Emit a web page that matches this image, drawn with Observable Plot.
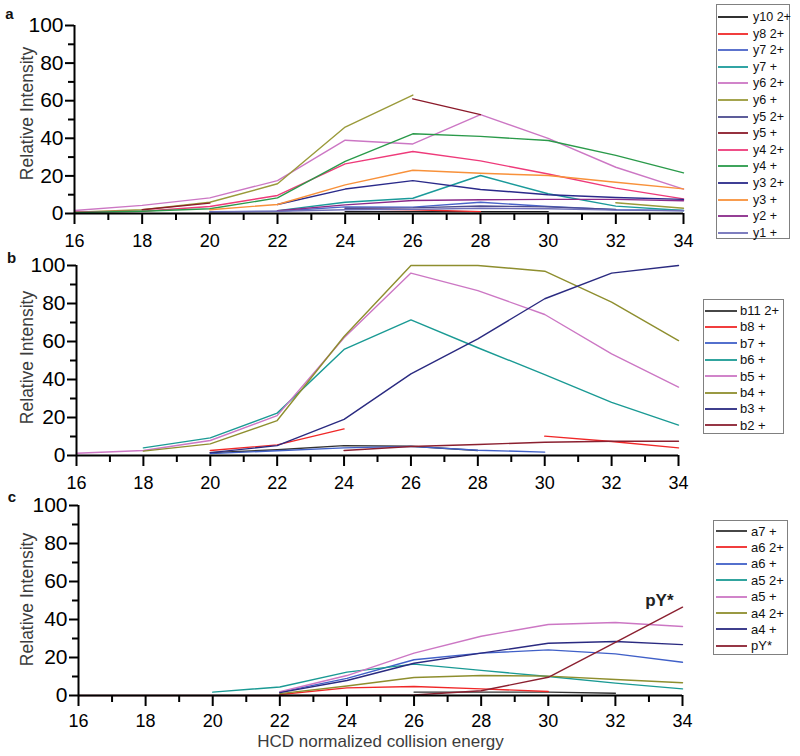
<!DOCTYPE html>
<html>
<head>
<meta charset="utf-8">
<script src="https://cdn.jsdelivr.net/npm/d3@7"></script>
<script src="https://cdn.jsdelivr.net/npm/@observablehq/plot@0.6"></script>
<style>
  html, body { margin: 0; padding: 0; background: #fff; }
  #root { position: relative; width: 800px; height: 756px; overflow: hidden; font-family: "Liberation Sans", Arial, sans-serif; }
  .legend { position: absolute; border: 1px solid #808080; background: #fff; box-sizing: border-box; }
  .legend .row { position: absolute; left: 0; height: 16px; display: flex; align-items: center; white-space: nowrap; color: #111; }
</style>
</head>
<body>
<div id="root"></div>
<script>
// ---------- data ----------
const energies = [16, 18, 20, 22, 24, 26, 28, 30, 32, 34];
const xMajorTicks = [16, 18, 20, 22, 24, 26, 28, 30, 32, 34];
const xMinorTicks = [17, 19, 21, 23, 25, 27, 29, 31, 33];
const yMajorTicks = [0, 20, 40, 60, 80, 100];
const yMinorTicks = [10, 30, 50, 70, 90];

// panel a : y ions
const yNames = ["y10 2+", "y8 2+", "y7 2+", "y7 +", "y6 2+", "y6 +", "y5 2+", "y5 +", "y4 2+", "y4 +", "y3 2+", "y3 +", "y2 +", "y1 +"];
const yColors = ["#1a1a1a", "#f02828", "#4a64c8", "#1a9a9a", "#cc77c4", "#9a9a3a", "#4b4b8f", "#8b1a2a", "#ee3a7a", "#2a9a4a", "#2a2a8a", "#f8913a", "#8a2a8a", "#7070b8"];
const y10_2 = [null, null, null, null, 1, 1, 1, 1, null, null];
const y8_2  = [null, null, null, null, 2.5, 2, 1, null, null, null];
const y7_2  = [null, null, 1, 1.2, 3.5, 3.4, 6, 3.7, 2, 1.6];
const y7_1  = [null, null, null, 1.5, 6, 8.1, 20.2, 10.5, 3.9, 1.6];
const y6_2  = [1.6, 4.3, 8.3, 17.5, 39, 37, 52.6, 40, 24.6, 13];
const y6_1  = [0.7, 2, 6, 15.8, 46, 63, null, null, 5.7, 2.8];
const y5_2  = [null, null, null, null, 2.8, 3, 4, 3.5, 2.2, null];
const y5_1  = [null, 2, 5.5, null, null, 61, 52.6, null, null, null];
const y4_2  = [0.8, 1.2, 3.7, 9.6, 26.4, 33, 28, 21, 13.5, 7.8];
const y4_1  = [0.5, 1.2, 2.5, 8.3, 27.7, 42.4, 41, 38.8, 30.9, 21.6];
const y3_2  = [null, null, null, 4.8, 13, 17.5, 12.8, 10, 8.5, 7.5];
const y3_1  = [null, null, 2, 4.8, 15.2, 23, 21.4, 20.2, 16.6, 13.1];
const y2_1  = [null, null, null, 1.5, 4.6, 6.9, 7.3, 7.5, 7.5, 6.8];
const y1_1  = [null, null, 0.8, 1.2, 2, 2.2, 2.8, 2.5, 1.8, 1.5];
const yValues = [y10_2, y8_2, y7_2, y7_1, y6_2, y6_1, y5_2, y5_1, y4_2, y4_1, y3_2, y3_1, y2_1, y1_1];

// panel b : b ions
const bNames = ["b11 2+", "b8 +", "b7 +", "b6 +", "b5 +", "b4 +", "b3 +", "b2 +"];
const bColors = ["#333333", "#f02828", "#4060c8", "#1a9a94", "#cc77c4", "#8e8e2e", "#2a2a80", "#8b2030"];
const b11_2 = [null, null, 1.5, 3, 5.2, 4.9, 2.6, null, null, null];
const b8_1  = [null, null, 2.6, 5.6, 14, null, null, 10.2, 7.4, 4];
const b7_1  = [null, null, 1, 2.5, 4, 4.8, 2.8, 1.8, null, null];
const b6_1  = [null, 4, 9.3, 22.3, 55.8, 71.4, 56.7, 42.6, 28, 16];
const b5_1  = [1.2, 2.6, 7.9, 21, 62, 96, 86.8, 74.2, 53.5, 36];
const b4_1  = [null, 2.3, 6.1, 18.4, 62.6, 100, 100, 97, 80.7, 60.5];
const b3_1  = [null, null, 1.5, 5.2, 19, 43, 61.4, 82.5, 96, 100];
const b2_1  = [null, null, null, null, 2.6, 4.7, 5.8, 7, 7.5, 7.5];
const bValues = [b11_2, b8_1, b7_1, b6_1, b5_1, b4_1, b3_1, b2_1];

// panel c : a ions
const aNames = ["a7 +", "a6 2+", "a6 +", "a5 2+", "a5 +", "a4 2+", "a4 +", "pY*"];
const aColors = ["#333333", "#f02828", "#4060c8", "#1a9a94", "#cc77c4", "#8e8e2e", "#2a2a80", "#8b2030"];
const a7_1  = [null, null, null, null, null, 1.8, 1.8, 1.8, 1.2, null];
const a6_2  = [null, null, null, 0.5, 4, 4.7, 3.5, 2.1, null, null];
const a6_1  = [null, null, null, 1.8, 9, 18.8, 22.3, 24, 21.9, 17.5];
const a5_2  = [null, null, 1.8, 4.5, 12.3, 16.5, 13.2, 10, 6.5, 3.5];
const a5_1  = [null, null, null, 2, 10.5, 22.3, 31.2, 37.4, 38.4, 36.3];
const a4_2  = [null, null, null, 1, 5, 9.5, 10.5, 10.2, 8.4, 6.7];
const a4_1  = [null, null, null, 1.5, 7.9, 17, 22.3, 27.5, 28.4, 26.8];
const pY    = [0, 0, 0, 0, 0, 0.3, 2.5, 9.6, 28, 46.5];
const aValues = [a7_1, a6_2, a6_1, a5_2, a5_1, a4_2, a4_1, pY];

const yTitle = "Relative Intensity";
const xTitle = "HCD normalized collision energy";
const annotation = [{x: 34, y: 46.5, text: "pY*"}];

// ---------- helpers ----------
function toRows(names, values) {
  const rows = [];
  names.forEach((n, i) => {
    values[i].forEach((v, j) => rows.push({series: n, x: energies[j], y: v == null ? NaN : v}));
  });
  return rows;
}

const root = document.getElementById("root");

function makePanel(cfg) {
  const rows = toRows(cfg.names, cfg.values);
  const marks = [
    Plot.line(rows, {x: "x", y: "y", z: "series", stroke: "series", strokeWidth: 1.4}),
    Plot.ruleY([0], {strokeWidth: 2, stroke: "#000"}),
    Plot.ruleX([16], {strokeWidth: 2, stroke: "#000"}),
    Plot.axisX({ticks: xMajorTicks, tickSize: 11, tickPadding: cfg.xPad, fontSize: 18, strokeWidth: 2, label: null, tickFormat: d => String(d)}),
    Plot.axisX({ticks: xMinorTicks, tickSize: 7, strokeWidth: 2, label: null, tickFormat: () => ""}),
    Plot.axisY({ticks: yMajorTicks, tickSize: 9, tickPadding: 2, fontSize: 21, strokeWidth: 2, label: null, tickFormat: d => String(d)}),
    Plot.axisY({ticks: yMinorTicks, tickSize: 6, strokeWidth: 2, label: null, tickFormat: () => ""}),
    Plot.text([yTitle], {frameAnchor: "left", dx: 27 - cfg.marginLeft, dy: cfg.titleDy, rotate: -90, textAnchor: "middle", lineAnchor: "middle", fontSize: 17.5, fill: "#3c3c3c"}),
    Plot.text([cfg.letter], {frameAnchor: "top-left", dx: cfg.letterDx, dy: cfg.letterDy, textAnchor: "middle", lineAnchor: "middle", fontSize: 15, fontWeight: "bold", fill: "#111"})
  ];
  if (cfg.extra) marks.push(...cfg.extra);
  const svg = Plot.plot({
    width: 700,
    height: cfg.height,
    marginLeft: cfg.marginLeft,
    marginRight: cfg.marginRight,
    marginTop: 25,
    marginBottom: cfg.height - 25 - cfg.plotH,
    x: {domain: [16, 34]},
    y: {domain: [0, 100]},
    color: {domain: cfg.names, range: cfg.colors},
    style: {fontFamily: "Liberation Sans, Arial, sans-serif", color: "#000", background: "transparent", overflow: "visible"},
    marks
  });
  svg.style.position = "absolute";
  svg.style.left = "0px";
  svg.style.top = cfg.top + "px";
  root.appendChild(svg);

  // legend
  const lg = cfg.legend;
  const box = document.createElement("div");
  box.className = "legend";
  box.style.left = lg.left + "px";
  box.style.top = lg.top + "px";
  box.style.width = lg.width + "px";
  box.style.height = lg.height + "px";
  cfg.names.forEach((n, i) => {
    const row = document.createElement("div");
    row.className = "row";
    row.style.top = (lg.first + i * lg.step - 8) + "px";
    row.style.fontSize = lg.fontSize + "px";
    const s = document.createElementNS("http://www.w3.org/2000/svg", "svg");
    s.setAttribute("width", lg.lineW + lg.lineX);
    s.setAttribute("height", 16);
    const l = document.createElementNS("http://www.w3.org/2000/svg", "line");
    l.setAttribute("x1", lg.lineX); l.setAttribute("x2", lg.lineX + lg.lineW);
    l.setAttribute("y1", 8); l.setAttribute("y2", 8);
    l.setAttribute("stroke", cfg.colors[i]); l.setAttribute("stroke-width", 1.8);
    s.appendChild(l);
    const t = document.createElement("span");
    t.textContent = n;
    t.style.marginLeft = lg.gap + "px";
    row.appendChild(s);
    row.appendChild(t);
    box.appendChild(row);
  });
  root.appendChild(box);
}

makePanel({
  names: yNames, colors: yColors, values: yValues, letter: "a",
  top: 0, height: 255, plotH: 188, marginLeft: 74, marginRight: 17, titleDy: -6, xPad: 10,
  letterDx: -65, letterDy: -11,
  legend: {left: 716, top: 4, width: 74, height: 235, first: 12, step: 16.6, lineX: 1, lineW: 30, gap: 5, fontSize: 12.5}
});

makePanel({
  names: bNames, colors: bColors, values: bValues, letter: "b",
  top: 240, height: 255, plotH: 190, marginLeft: 76, marginRight: 22, titleDy: -3, xPad: 10,
  letterDx: -65, letterDy: -7,
  legend: {left: 703, top: 299, width: 81, height: 135, first: 10.5, step: 16.4, lineX: 1, lineW: 32, gap: 3, fontSize: 13}
});

makePanel({
  names: aNames, colors: aColors, values: aValues, letter: "c",
  top: 480, height: 276, plotH: 190, marginLeft: 78, marginRight: 18, titleDy: -1, xPad: 8,
  letterDx: -66.5, letterDy: -8,
  legend: {left: 713, top: 520, width: 75, height: 135, first: 10, step: 16.4, lineX: 2, lineW: 31, gap: 4, fontSize: 13},
  extra: [
    Plot.text(annotation, {x: "x", y: "y", text: "text", textAnchor: "end", dx: -9, dy: -7, fontSize: 17, fontWeight: "bold", fill: "#222"}),
    Plot.text([xTitle], {frameAnchor: "bottom", dy: 51, fontSize: 17, fill: "#3c3c3c"})
  ]
});
</script>
</body>
</html>
